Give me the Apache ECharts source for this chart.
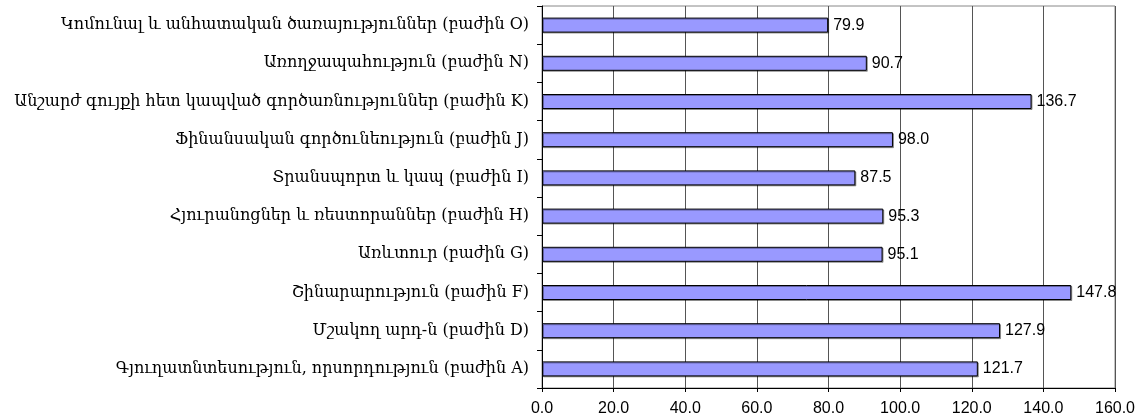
<!DOCTYPE html>
<html><head><meta charset="utf-8">
<script src="https://cdn.jsdelivr.net/npm/echarts@6/dist/echarts.min.js"></script>
<style>html,body{margin:0;padding:0;background:#fff}#c{width:1145px;height:418px}</style>
</head><body><div id="c"></div>
<script>
const categories = [
  "Կոմունալ և անհատական ծառայություններ (բաժին O)",
  "Առողջապահություն (բաժին N)",
  "Անշարժ գույքի հետ կապված գործառնություններ (բաժին K)",
  "Ֆինանսական գործունեություն (բաժին J)",
  "Տրանսպորտ և կապ (բաժին I)",
  "Հյուրանոցներ և ռեստորաններ (բաժին H)",
  "Առևտուր (բաժին G)",
  "Շինարարություն (բաժին F)",
  "Մշակող արդ-ն (բաժին D)",
  "Գյուղատնտեսություն, որսորդություն (բաժին A)"
];
const values = [79.9, 90.7, 136.7, 98.0, 87.5, 95.3, 95.1, 147.8, 127.9, 121.7];
const xTicks = [0, 20, 40, 60, 80, 100, 120, 140, 160];

const chart = echarts.init(document.getElementById('c'));
chart.setOption({
  animation: false,
  grid: {left: 542, right: 30, top: 6, bottom: 30, containLabel: false,
         show: true, borderColor: '#888', borderWidth: 1},
  xAxis: {
    type: 'value', min: xTicks[0], max: xTicks[xTicks.length-1], interval: 20,
    axisLine: {show: true, onZero: false, lineStyle: {color: '#000'}},
    axisTick: {show: true, length: 4, lineStyle: {color: '#000'}},
    axisLabel: {formatter: v => v.toFixed(1), color: '#000', fontFamily: 'Liberation Sans, Arial', fontSize: 16, margin: 13},
    splitLine: {show: true, lineStyle: {color: '#555', width: 1}}
  },
  yAxis: {
    type: 'category', data: categories, inverse: true,
    axisLine: {show: true, lineStyle: {color: '#000'}},
    axisTick: {show: true, length: 5, lineStyle: {color: '#000'}},
    axisLabel: {color: '#000', fontFamily: 'DejaVu Serif', fontSize: 16, margin: 13}
  },
  series: [{
    type: 'bar', data: values, barWidth: 15,
    itemStyle: {color: '#9999FF', borderColor: '#000', borderWidth: 1,
                shadowColor: 'rgba(0,0,0,0.35)', shadowOffsetX: 1, shadowOffsetY: 1, shadowBlur: 0},
    label: {show: true, position: 'right', distance: 5, formatter: p => p.value.toFixed(1),
            color: '#000', fontFamily: 'Liberation Sans, Arial', fontSize: 16}
  }]
});
</script></body></html>
